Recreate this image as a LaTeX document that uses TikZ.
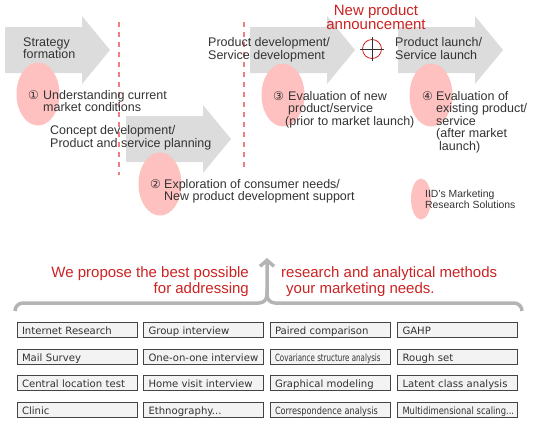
\documentclass[tikz,border=0pt]{standalone}
\usepackage{fontspec}
\setmainfont{Liberation Sans}
\newfontfamily\boxfont{DejaVu Sans}
\usepackage{graphicx}
\usetikzlibrary{arrows.meta,shapes.geometric}
\definecolor{arrowgray}{HTML}{DCDCDC}
\definecolor{blushpink}{HTML}{FFC0C0}
\definecolor{inkgray}{HTML}{333333}
\definecolor{alertred}{HTML}{CC2222}
\definecolor{dashred}{HTML}{F08080}
\definecolor{bracegray}{HTML}{B4B4B4}
\definecolor{boxfill}{HTML}{F3F3F3}
\definecolor{boxline}{HTML}{444444}
\newcommand{\squeeze}[2]{\scalebox{#1}[1]{#2}}
\tikzset{
  pics/phasearrow/.style = {code={
    \fill[arrowgray] (0,-23) -- (77,-23) -- (77,-34) -- (105,0) -- (77,34)
                     -- (77,23) -- (0,23) -- cycle;}},
  spot/.style     = {ellipse, fill=blushpink, inner sep=0pt,
                     minimum width=43pt, minimum height=63pt},
  steptext/.style = {anchor=base west, align=left, inner sep=0pt, text=inkgray,
                     font=\fontsize{12.5}{12.5}\selectfont},
  stepnum/.style  = {anchor=base west, inner sep=0pt, text=inkgray,
                     font=\boxfont\fontsize{12}{12}\selectfont},
  cut/.style      = {draw=dashred, line width=1.2pt, dash pattern=on 5pt off 5pt},
  pitch/.style    = {inner sep=0pt, text=alertred, font=\fontsize{15}{16}\selectfont},
  method/.style   = {draw=boxline, fill=boxfill, line width=0.8pt, inner xsep=5pt,
                     inner ysep=0pt, minimum height=15pt, text width=110pt,
                     align=left, text height=10pt, text depth=0.6pt, text=inkgray,
                     font=\boxfont\fontsize{10.1}{10.1}\selectfont},
  brace/.style    = {draw=bracegray, line width=3.5pt, rounded corners=8pt},
}
\begin{document}
\begin{tikzpicture}[x=1pt,y=-1pt]
\useasboundingbox (0,0) rectangle (540,424);
% process arrows
\pic (strategy) at (5,50)   {phasearrow};
\pic (concept)  at (126,139) {phasearrow};
\pic (develop)  at (250,50) {phasearrow};
\pic (launch)   at (398,50) {phasearrow};
% pink markers
\node[spot] (spotA) at (38,94) {};
\node[spot] (spotB) at (160,184) {};
\node[spot] (spotC) at (283,95) {};
\node[spot] (spotD) at (431,95) {};
\node[spot,minimum width=20pt,minimum height=41pt] (spotE) at (421,199) {};
% phase borders
\coordinate (cutAtop) at (119,22);  \coordinate (cutAbot) at (119,175);
\coordinate (cutBtop) at (244,22);  \coordinate (cutBbot) at (244,168);
\draw[cut] (cutAtop) -- (cutAbot);
\draw[cut] (cutBtop) -- (cutBbot);
% phase names (anchored on the last line)
\node[steptext] (strategyT) at (23,58.5) {Strategy\\formation};
\node[steptext] (conceptT)  at (50,147) {Concept development/\\Product and service planning};
\node[steptext] (developT)  at (208,59) {Product development/\\Service development};
\node[steptext] (launchT)   at (395,59) {Product launch/\\Service launch};
% research steps
\node[stepnum]  (numA) at (28,99) {①};
\node[steptext] (stepA) at (43,111.5) {Understanding current\\market conditions};
\node[stepnum]  (numB) at (150,188) {②};
\node[steptext] (stepB) at (164,200.5) {Exploration of consumer needs/\\New product development support};
\node[stepnum]  (numC) at (273,100) {③};
\node[steptext] (stepC) at (288,125) {Evaluation of new\\product/service\\\hspace*{-3pt}(prior to market launch)};
\node[stepnum]  (numD) at (422,100) {④};
\node[steptext] (stepD) at (436,150) {Evaluation of\\existing product/\\service\\(after market\\\hspace*{3pt}launch)};
\node[steptext,font=\fontsize{10.4}{11.5}\selectfont] (solutions) at (425,208.5) {IID's Marketing\\Research Solutions};
% announcement mark
\node[pitch,anchor=base,align=center,font=\fontsize{15}{14}\selectfont] (announce) at (376,29) {New product\\announcement};
\node[circle,draw=alertred,line width=0.8pt,inner sep=0pt,minimum size=19pt] (annMark) at (372,49) {};
\draw[inkgray,line width=0.8pt] ([xshift=-12pt]annMark.center) -- ([xshift=12pt]annMark.center);
\draw[inkgray,line width=0.8pt] ([yshift=-12pt]annMark.center) -- ([yshift=12pt]annMark.center);
% proposal brace
\coordinate (braceL) at (15,311);
\coordinate (braceR) at (522,311);
\coordinate (braceJ) at (267,303);
\coordinate (braceS) at (267,290);
\coordinate (braceTip) at (267,258);
\draw[brace,-{Straight Barb[length=6pt,width=14pt]}] (braceL) |- (braceJ) -- (braceTip);
\draw[brace] (braceR) |- (braceJ) -- (braceS);
\node[pitch,anchor=base east,align=right] (pitchL) at (249,293) {We propose the best possible\\for addressing};
\node[pitch,anchor=base west,align=left]  (pitchR) at (281,293) {research and analytical methods\\\hspace*{5pt}your marketing needs.};
% methods
\node[method] (m11) at (77,329.5)    {Internet Research};
\node[method] (m12) at (203.5,329.5) {Group interview};
\node[method] (m13) at (330,329.5)   {Paired comparison};
\node[method] (m14) at (457.5,329.5) {GAHP};
\node[method] (m21) at (77,356.5)    {Mail Survey};
\node[method] (m22) at (203.5,356.5) {One-on-one interview};
\node[method] (m23) at (330,356.5)   {\squeeze{0.71}{\fontsize{10}{10}\selectfont Covariance structure analysis}};
\node[method] (m24) at (457.5,356.5) {Rough set};
\node[method] (m31) at (77,382.5)    {Central location test};
\node[method] (m32) at (203.5,382.5) {Home visit interview};
\node[method] (m33) at (330,382.5)   {Graphical modeling};
\node[method] (m34) at (457.5,382.5) {Latent class analysis};
\node[method] (m41) at (77,409.5)    {Clinic};
\node[method] (m42) at (203.5,409.5) {Ethnography...};
\node[method] (m43) at (330,409.5)   {\squeeze{0.82}{\fontsize{10}{10}\selectfont Correspondence analysis}};
\node[method] (m44) at (457.5,409.5) {\squeeze{0.83}{Multidimensional scaling...}};
\end{tikzpicture}
\end{document}
